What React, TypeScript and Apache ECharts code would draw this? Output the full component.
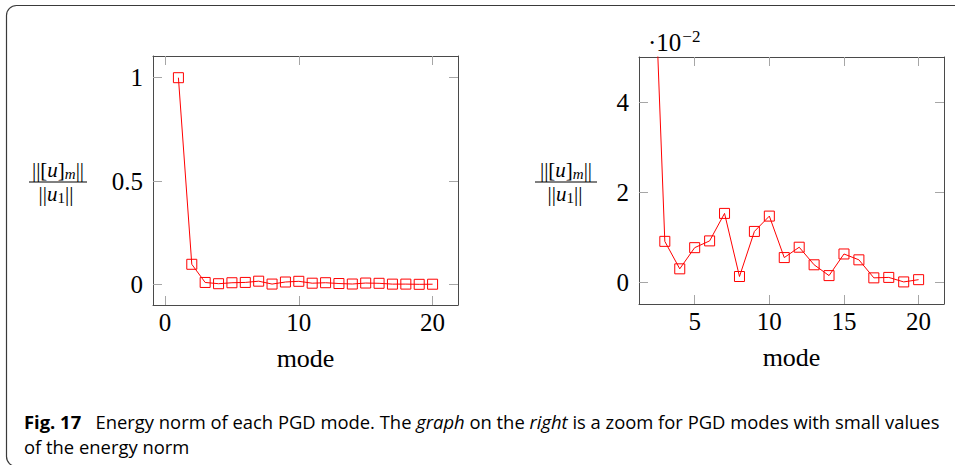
import React, { useEffect, useRef } from "react";
import * as echarts from "echarts";

const modes = [1, 2, 3, 4, 5, 6, 7, 8, 9, 10, 11, 12, 13, 14, 15, 16, 17, 18, 19, 20];
const energyNorm = [
  1.0, 0.097, 0.0091, 0.003, 0.0077, 0.0092, 0.0153, 0.0013, 0.0113, 0.0147,
  0.0055, 0.0078, 0.0039, 0.0015, 0.0063, 0.005, 0.001, 0.0011, 0.0001, 0.0006,
];
const leftXTicks = [0, 10, 20];
const leftYTicks = [0, 0.5, 1];
const rightXTicks = [5, 10, 15, 20];
const rightYTicks = [0, 0.02, 0.04];
const xLabel = "mode";
const captionBold = "Fig. 17";
const captionLine2 = "of the energy norm";

const SERIF = "'Liberation Serif', 'DejaVu Serif', serif";
const SANS = "'Open Sans', 'Noto Sans', sans-serif";
const FRAME = "#4a4a4a";
const TICK = "#a6a6a6";
const RED = "#ff0000";

function xAxes(grid: number, min: number, max: number, ticks: number[]) {
  const base = {
    gridIndex: grid,
    type: "value" as const,
    min,
    max,
    splitLine: { show: false },
    axisLine: { show: true, onZero: false, lineStyle: { color: FRAME, width: 1 } },
    axisTick: { show: true, inside: true, length: 9, customValues: ticks, lineStyle: { color: TICK, width: 1 } },
  };
  return [
    {
      ...base,
      position: "bottom",
      axisLabel: { show: true, customValues: ticks, fontFamily: SERIF, fontSize: 25, color: "#000", margin: 5 },
      name: xLabel,
      nameLocation: "middle",
      nameGap: 40,
      nameTextStyle: { fontFamily: SERIF, fontSize: 26, color: "#000" },
    },
    { ...base, position: "top", axisLabel: { show: false, customValues: ticks } },
  ];
}

function yAxes(grid: number, min: number, max: number, ticks: number[], fmt: (v: number) => string) {
  const base = {
    gridIndex: grid,
    type: "value" as const,
    min,
    max,
    splitLine: { show: false },
    axisLine: { show: true, onZero: false, lineStyle: { color: FRAME, width: 1 } },
    axisTick: { show: true, inside: true, length: 9, customValues: ticks, lineStyle: { color: TICK, width: 1 } },
  };
  return [
    {
      ...base,
      position: "left",
      axisLabel: { show: true, customValues: ticks, formatter: fmt, fontFamily: SERIF, fontSize: 25, color: "#000", margin: 10 },
    },
    { ...base, position: "right", axisLabel: { show: false, customValues: ticks } },
  ];
}

function fraction(numCx: number, denCx: number, x1: number, x2: number) {
  const rich = {
    n: { fontFamily: SERIF, fontSize: 21, color: "#000", lineHeight: 19 },
    i: { fontFamily: SERIF, fontSize: 21, fontStyle: "italic", color: "#000", lineHeight: 19 },
    s: { fontFamily: SERIF, fontSize: 15, fontStyle: "italic", color: "#000", lineHeight: 19, padding: [7, 0, 0, 0] },
    su: { fontFamily: SERIF, fontSize: 15, color: "#000", lineHeight: 19, padding: [7, 0, 0, 0] },
  };
  return [
    {
      type: "text",
      x: numCx,
      y: 170,
      style: { text: "{n|||[}{i|u}{n|]}{s|m}{n|||}", rich, align: "center", verticalAlign: "middle" },
    },
    { type: "line", shape: { x1, y1: 182, x2, y2: 182 }, style: { stroke: "#000", lineWidth: 1 } },
    {
      type: "text",
      x: denCx,
      y: 194,
      style: { text: "{n|||}{i|u}{su|1}{n|||}", rich, align: "center", verticalAlign: "middle" },
    },
  ];
}

export default function App() {
  const ref = useRef<HTMLDivElement>(null);
  useEffect(() => {
    if (!ref.current) return;
    const chart = echarts.init(ref.current, undefined, { renderer: "svg" });
    const data = modes.map((m, i) => [m, energyNorm[i]]);
    const seriesBase = {
      type: "line" as const,
      data,
      symbol: "rect",
      symbolSize: 10,
      clip: true,
      lineStyle: { color: RED, width: 1 },
      itemStyle: { color: "rgba(255,255,255,0)", borderColor: RED, borderWidth: 1 },
      emphasis: { disabled: true },
    };
    const capRich = {
      b: { fontFamily: SANS, fontSize: 18.4, fontWeight: "bold", color: "#231f20" },
      r: { fontFamily: SANS, fontSize: 18.4, color: "#231f20" },
      it: { fontFamily: SANS, fontSize: 18.4, fontStyle: "italic", color: "#231f20" },
    };
    chart.setOption({
      animation: false,
      backgroundColor: "#ffffff",
      grid: [
        { left: 153, top: 56, width: 305, height: 249 },
        { left: 639, top: 57, width: 305, height: 247 },
      ],
      xAxis: [...xAxes(0, -0.9, 21.9, leftXTicks), ...xAxes(1, 1.27, 21.7, rightXTicks)],
      yAxis: [
        ...yAxes(0, -0.1, 1.105, leftYTicks, (v: number) => String(v)),
        ...yAxes(1, -0.0048, 0.05, rightYTicks, (v: number) => String(Math.round(v * 100))),
      ],
      series: [
        { ...seriesBase, xAxisIndex: 0, yAxisIndex: 0 },
        { ...seriesBase, xAxisIndex: 2, yAxisIndex: 2 },
      ],
      graphic: [
        {
          type: "rect",
          shape: { x: 6.5, y: 5.5, width: 1000, height: 461, r: 10 },
          style: { fill: "none", stroke: "#3a3a3a", lineWidth: 1.2 },
          silent: true,
        },
        ...fraction(58, 56, 29, 87),
        ...fraction(566, 565, 535, 597),
        {
          type: "text",
          x: 648,
          y: 42,
          style: {
            text: "{a|·10}{b|−2}",
            rich: {
              a: { fontFamily: SERIF, fontSize: 25, color: "#000", lineHeight: 30 },
              b: { fontFamily: SERIF, fontSize: 17, color: "#000", lineHeight: 30, padding: [0, 0, 12, 1] },
            },
            verticalAlign: "middle",
          },
        },
        {
          type: "text",
          x: 24,
          y: 421,
          style: {
            text: `{b|${captionBold}}{r|   Energy norm of each PGD mode. The }{it|graph}{r| on the }{it|right}{r| is a zoom for PGD modes with small values}`,
            rich: capRich,
            verticalAlign: "middle",
          },
        },
        {
          type: "text",
          x: 24,
          y: 446,
          style: { text: `{r|${captionLine2}}`, rich: capRich, verticalAlign: "middle" },
        },
      ],
    });
    return () => chart.dispose();
  }, []);
  return (
    <div
      ref={ref}
      style={{ position: "fixed", left: 0, top: 0, width: 955, height: 465, background: "#fff" }}
    />
  );
}
